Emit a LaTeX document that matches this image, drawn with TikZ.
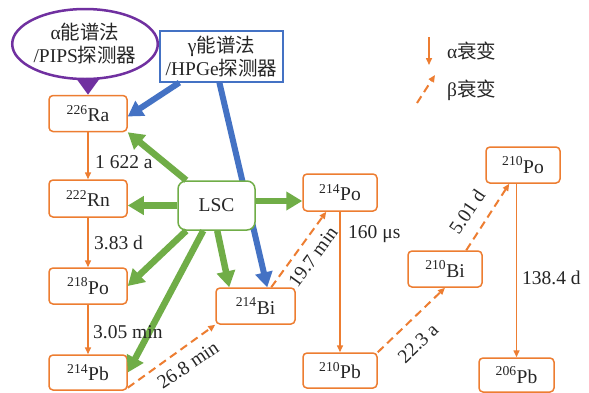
\documentclass[tikz,border=0pt]{standalone}
\usepackage{fontspec}
\setmainfont{Liberation Serif}
\newfontfamily\cjk{Noto Sans CJK SC}
\usetikzlibrary{arrows.meta,shapes.geometric,calc,backgrounds}
\definecolor{ora}{RGB}{237,125,49}
\definecolor{grn}{RGB}{112,173,71}
\definecolor{blu}{RGB}{68,114,196}
\definecolor{pur}{RGB}{112,48,160}
\definecolor{txt}{RGB}{38,38,38}
\newcommand\myfs{\fontsize{19.5}{23}\selectfont}
\begin{document}
\begin{tikzpicture}[x=1pt,y=-1pt,
  every node/.style={text=txt,font=\myfs},
  nuc/.style={draw=ora,line width=1.5pt,rounded corners=4pt,fill=white,minimum width=78pt,minimum height=36pt,inner sep=0pt},
  lscbox/.style={draw=grn,line width=1.5pt,rounded corners=8pt,fill=white,minimum width=77pt,minimum height=49pt,inner sep=0pt},
  alphadec/.style={draw=ora,line width=1.5pt,-{Triangle[length=7pt,width=6pt]}},
  betadec/.style={draw=ora,line width=2pt,dash pattern=on 8pt off 5pt,-{Triangle[length=7pt,width=6pt]}},
  garr/.style={draw=grn,line width=6.5pt,-{Triangle[length=16pt,width=18pt]}},
  barr/.style={draw=blu,line width=6pt,-{Triangle[length=15pt,width=17pt]}},
  parr/.style={draw=pur,line width=7pt,-{Triangle[length=16pt,width=22pt]}},
  lbl/.style={inner sep=0pt}
]
\useasboundingbox (0,0) rectangle (589,392);

% detectors
\node[draw=pur,line width=2.5pt,ellipse,minimum width=144pt,minimum height=70pt,inner sep=0pt,align=center] (alpha) at (85,44) {α{\cjk 能谱法}\\/PIPS{\cjk 探测器}};
\node[draw=blu,line width=1.2pt,minimum width=123pt,minimum height=51pt,inner sep=0pt,align=center] (gamma) at (221.5,56.5) {γ{\cjk 能谱法}\\/HPGe{\cjk 探测器}};

% nuclides
\node[nuc] (Ra) at (88,113.5) {\textsuperscript{226}Ra};
\node[nuc,minimum height=37pt] (Rn) at (88,198.5) {\textsuperscript{222}Rn};
\node[nuc] (Po218) at (88,286) {\textsuperscript{218}Po};
\node[nuc,minimum height=35pt] (Pb214) at (88,372.5) {\textsuperscript{214}Pb};
\node[nuc,minimum width=79pt] (Bi214) at (255.5,306) {\textsuperscript{214}Bi};
\node[nuc,minimum width=74pt,minimum height=37pt] (Po214) at (340,192.5) {\textsuperscript{214}Po};
\node[nuc,minimum width=74pt,minimum height=35pt] (Pb210) at (340,370.5) {\textsuperscript{210}Pb};
\node[nuc,minimum width=74pt] (Bi210) at (445,269) {\textsuperscript{210}Bi};
\node[nuc,minimum width=74pt] (Po210) at (523,165) {\textsuperscript{210}Po};
\node[nuc,minimum width=75pt,minimum height=34pt] (Pb206) at (516.5,375) {\textsuperscript{206}Pb};
\node[lscbox] (LSC) at (216.5,205.5) {LSC};

% blue arrows (behind LSC)
\begin{pgfonlayer}{background}
\fill[white] (0,0) rectangle (589,392);
\draw[barr] ($(gamma.south west)+(20,0)$) -- ($(Ra.east)+(0,3)$);
\draw[barr] ($(gamma.south west)+(60,0)$) -- ($(Bi214.north west)+(52,0)$);
\end{pgfonlayer}

% purple arrow
\draw[parr] (Ra.north |- alpha.south) -- (Ra.north);

% green arrows
\draw[garr] ($(LSC.north west)+(9,0)$) -- (Ra.south east);
\draw[garr] (LSC.west) -- (LSC.west -| Rn.east);
\draw[garr] ($(LSC.south west)+(9,0)$) -- (Po218.east);
\draw[garr] ($(LSC.south west)+(26,0)$) -- (Pb214.east);
\draw[garr] ($(LSC.south west)+(40,0)$) -- ($(Bi214.north west)+(14,0)$);
\coordinate (g6) at ($(LSC.east)+(0,-4.5)$);
\draw[garr] (g6) -- (g6 -| Po214.west);

% decay chain
\draw[alphadec] (Ra.south) -- (Rn.north);
\draw[alphadec] (Rn.south) -- (Po218.north);
\draw[alphadec] (Po218.south) -- (Pb214.north);
\draw[betadec] ($(Pb214.south east)+(0,-3)$) -- (Bi214.south west);
\draw[betadec] ($(Bi214.north west)+(56,0)$) -- ($(Po214.south west)+(24,0)$);
\draw[alphadec] (Po214.south) -- (Pb210.north);
\draw[betadec] (Pb210.north east) -- (Bi210.south);
\draw[betadec] ($(Bi210.north west)+(59,0)$) -- ($(Po210.south west)+(24,0)$);
\draw[alphadec] (Pb206.north |- Po210.south) -- (Pb206.north);

% half-life labels
\node[lbl,anchor=west] (t1) at (95,162) {1 622 a};
\node[lbl,anchor=west] (t2) at (94,243) {3.83 d};
\node[lbl,anchor=west] (t3) at (93,332) {3.05 min};
\node[lbl,rotate=34] (t4) at (188,365) {26.8 min};
\node[lbl,rotate=54] (t5) at (313,257) {19.7 min};
\node[lbl,anchor=west] (t6) at (348,234) {160 μs};
\node[lbl,rotate=44] (t7) at (418,343) {22.3 a};
\node[lbl,rotate=56] (t8) at (467,212) {5.01 d};
\node[lbl,anchor=west] (t9) at (522,278) {138.4 d};

% legend
\coordinate (la1) at (429,37);
\coordinate (la2) at (429,65);
\draw[alphadec] (la1) -- (la2);
\node[lbl,anchor=west] (lat) at (447,51) {α{\cjk 衰变}};
\coordinate (lb1) at (417,103);
\coordinate (lb2) at (435,75);
\draw[betadec] (lb1) -- (lb2);
\node[lbl,anchor=west] (lbt) at (447,90) {β{\cjk 衰变}};
\end{tikzpicture}
\end{document}
